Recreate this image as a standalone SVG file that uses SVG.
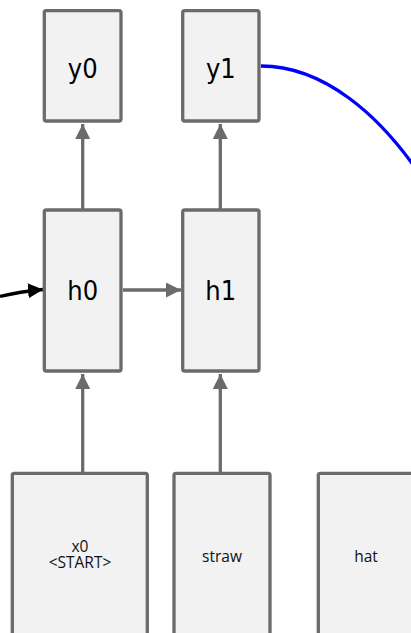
<svg xmlns="http://www.w3.org/2000/svg" width="411" height="633" viewBox="0 0 411 633">
<defs>
<style>
.box{fill:#f2f2f2;stroke:#6b6b6b;stroke-width:3.3}
.big{font-family:"DejaVu Sans Condensed","DejaVu Sans",sans-serif;font-size:27px;fill:#000;text-anchor:middle}
.small{font-family:"Open Sans","Noto Sans",sans-serif;font-size:15.5px;fill:#111;text-anchor:middle}
.edge{fill:none;stroke:#6b6b6b;stroke-width:3.3}
</style>
<marker id="ag" markerUnits="userSpaceOnUse" markerWidth="16" markerHeight="16" refX="15" refY="7.5" orient="auto">
<path d="M0,0 L15,7.5 L0,15 z" fill="#6b6b6b"/>
</marker>
<marker id="ab" markerUnits="userSpaceOnUse" markerWidth="16" markerHeight="16" refX="15" refY="7.5" orient="auto">
<path d="M0,0 L15,7.5 L0,15 z" fill="#000"/>
</marker>
</defs>
<rect width="411" height="633" fill="#fff"/>
<g id="connectors">
<path class="edge" d="M82.7,209 V124" marker-end="url(#ag)"/>
<path class="edge" d="M220.3,209 V124" marker-end="url(#ag)"/>
<path class="edge" d="M82.7,472 V374" marker-end="url(#ag)"/>
<path class="edge" d="M220.3,472 V374" marker-end="url(#ag)"/>
<path class="edge" d="M123,290 H181" marker-end="url(#ag)"/>
<path d="M0,296.5 Q20,291.5 43,289.5" fill="none" stroke="#000" stroke-width="3.3" marker-end="url(#ab)"/>
<path d="M261,66 C320,66 380,110 430,190" fill="none" stroke="#0000ff" stroke-width="3.3"/>
</g>
<g id="y0"><rect class="box" x="44.3" y="10.7" width="76.7" height="110.3" rx="2"/><text class="big" x="82.7" y="78.3">y0</text></g>
<g id="y1"><rect class="box" x="182.7" y="10.7" width="76.3" height="110.3" rx="2"/><text class="big" x="220.8" y="78.3">y1</text></g>
<g id="h0"><rect class="box" x="44.3" y="210" width="76.7" height="161" rx="2"/><text class="big" x="82.7" y="300">h0</text></g>
<g id="h1"><rect class="box" x="182.7" y="210" width="76.3" height="161" rx="2"/><text class="big" x="220.8" y="300">h1</text></g>
<g id="x0"><rect class="box" x="12.3" y="473.3" width="135" height="180" rx="2"/><text class="small" x="80" y="551.5">x0</text><text class="small" x="80" y="568">&lt;START&gt;</text></g>
<g id="straw"><rect class="box" x="174" y="473.3" width="96" height="180" rx="2"/><text class="small" x="222" y="561.5">straw</text></g>
<g id="hat"><rect class="box" x="318.3" y="473.3" width="96" height="180" rx="2"/><text class="small" x="366" y="561.5">hat</text></g>
</svg>
